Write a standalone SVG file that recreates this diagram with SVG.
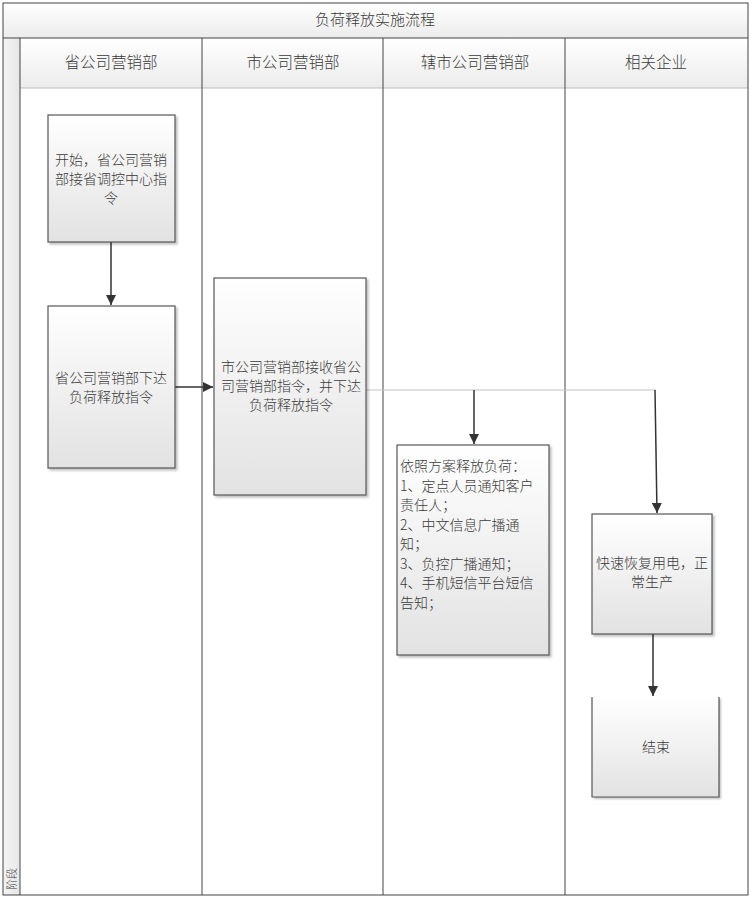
<svg xmlns="http://www.w3.org/2000/svg" width="751" height="900" viewBox="0 0 751 900">
<defs>
<linearGradient id="gBox" x1="0" y1="0" x2="0" y2="1">
<stop offset="0" stop-color="#ffffff"/>
<stop offset="1" stop-color="#e2e2e2"/>
</linearGradient>
<linearGradient id="gHead" x1="0" y1="0" x2="0" y2="1">
<stop offset="0" stop-color="#ffffff"/>
<stop offset="1" stop-color="#ececec"/>
</linearGradient>
<linearGradient id="gStrip" x1="0" y1="0" x2="1" y2="0">
<stop offset="0" stop-color="#f4f4f4"/>
<stop offset="1" stop-color="#e6e6e6"/>
</linearGradient>
<marker id="arr" viewBox="0 0 10 10" refX="10" refY="5" markerWidth="10" markerHeight="10" markerUnits="userSpaceOnUse" orient="auto">
<path d="M0,0 L10,5 L0,10 z" fill="#333"/>
</marker>
<filter id="sh" x="-10%" y="-10%" width="130%" height="130%">
<feDropShadow dx="2" dy="2" stdDeviation="1" flood-color="#000" flood-opacity="0.25"/>
</filter>
</defs>
<style>
.t{font-family:"Noto Sans CJK SC","Liberation Sans",sans-serif;fill:#3a3a3a;font-weight:300;}
.box{fill:url(#gBox);stroke:#555;stroke-width:1.2;}
.lane{stroke:#444;stroke-width:1;fill:none;}
.con{stroke:#333;stroke-width:1.5;fill:none;}
.thin{stroke:#c4c4c4;stroke-width:1.2;fill:none;}
</style>
<rect x="0" y="0" width="751" height="900" fill="#fff"/>
<g id="frame">
<rect x="3" y="3" width="745" height="35" fill="url(#gHead)"/>
<rect x="3" y="38" width="17" height="857" fill="url(#gStrip)"/>
<rect x="20" y="38" width="728" height="50" fill="url(#gHead)"/>
<line x1="20" y1="88" x2="748" y2="88" stroke="#bdbdbd" stroke-width="1"/>
<rect x="3" y="3" width="745" height="892" class="lane" stroke-width="1.5"/>
<line x1="3" y1="38" x2="748" y2="38" class="lane"/>
<line x1="20" y1="38" x2="20" y2="895" class="lane"/>
<line x1="202" y1="38" x2="202" y2="895" class="lane"/>
<line x1="383" y1="38" x2="383" y2="895" class="lane"/>
<line x1="565" y1="38" x2="565" y2="895" class="lane"/>
<text class="t" x="375" y="25" font-size="15" text-anchor="middle">负荷释放实施流程</text>
<text class="t" x="111" y="68" font-size="15.5" text-anchor="middle">省公司营销部</text>
<text class="t" x="293" y="68" font-size="15.5" text-anchor="middle">市公司营销部</text>
<text class="t" x="475" y="68" font-size="15.5" text-anchor="middle">辖市公司营销部</text>
<text class="t" x="656" y="68" font-size="15.5" text-anchor="middle">相关企业</text>
<text class="t" x="0" y="0" font-size="11" text-anchor="middle" transform="translate(16,879) rotate(-90)">阶段</text>
</g>
<g id="connectors">
<line x1="111" y1="242" x2="111" y2="305" class="con" marker-end="url(#arr)"/>
<line x1="175" y1="387" x2="213" y2="387" class="con" marker-end="url(#arr)"/>
<line x1="366" y1="390" x2="656" y2="390" class="thin"/>
<line x1="474" y1="390" x2="474" y2="444" class="con" marker-end="url(#arr)"/>
<line x1="655" y1="390" x2="657" y2="513" class="con" marker-end="url(#arr)"/>
<line x1="653" y1="634" x2="653" y2="696" class="con" marker-end="url(#arr)"/>
</g>
<g id="n1">
<rect x="48" y="115" width="127" height="127" class="box" filter="url(#sh)"/>
<text class="t" font-size="14" text-anchor="middle"><tspan x="111" y="165">开始，省公司营销</tspan><tspan x="111" y="184">部接省调控中心指</tspan><tspan x="111" y="203">令</tspan></text>
</g>
<g id="n2">
<rect x="48" y="306" width="127" height="162" class="box" filter="url(#sh)"/>
<text class="t" font-size="14" text-anchor="middle"><tspan x="111" y="383">省公司营销部下达</tspan><tspan x="111" y="402">负荷释放指令</tspan></text>
</g>
<g id="n3">
<rect x="214" y="278" width="152" height="217" class="box" filter="url(#sh)"/>
<text class="t" font-size="14" text-anchor="middle"><tspan x="291" y="372">市公司营销部接收省公</tspan><tspan x="291" y="391">司营销部指令，并下达</tspan><tspan x="291" y="410">负荷释放指令</tspan></text>
</g>
<g id="n4">
<rect x="397" y="445" width="152" height="210" class="box" filter="url(#sh)"/>
<text class="t" font-size="14"><tspan x="400" y="471">依照方案释放负荷：</tspan><tspan x="400" y="491">1、定点人员通知客户</tspan><tspan x="400" y="510">责任人；</tspan><tspan x="400" y="530">2、中文信息广播通</tspan><tspan x="400" y="549">知；</tspan><tspan x="400" y="569">3、负控广播通知；</tspan><tspan x="400" y="588">4、手机短信平台短信</tspan><tspan x="400" y="608">告知；</tspan></text>
</g>
<g id="n5">
<rect x="592" y="514" width="120" height="120" class="box" filter="url(#sh)"/>
<text class="t" font-size="14" text-anchor="middle"><tspan x="652" y="568">快速恢复用电，正</tspan><tspan x="652" y="587">常生产</tspan></text>
</g>
<g id="n6">
<rect x="592" y="697" width="127" height="100" fill="url(#gBox)" filter="url(#sh)"/>
<path d="M592,697 V797 H719 V697" fill="none" stroke="#555" stroke-width="1.2"/>
<text class="t" x="656" y="752" font-size="14" text-anchor="middle">结束</text>
</g>
</svg>
